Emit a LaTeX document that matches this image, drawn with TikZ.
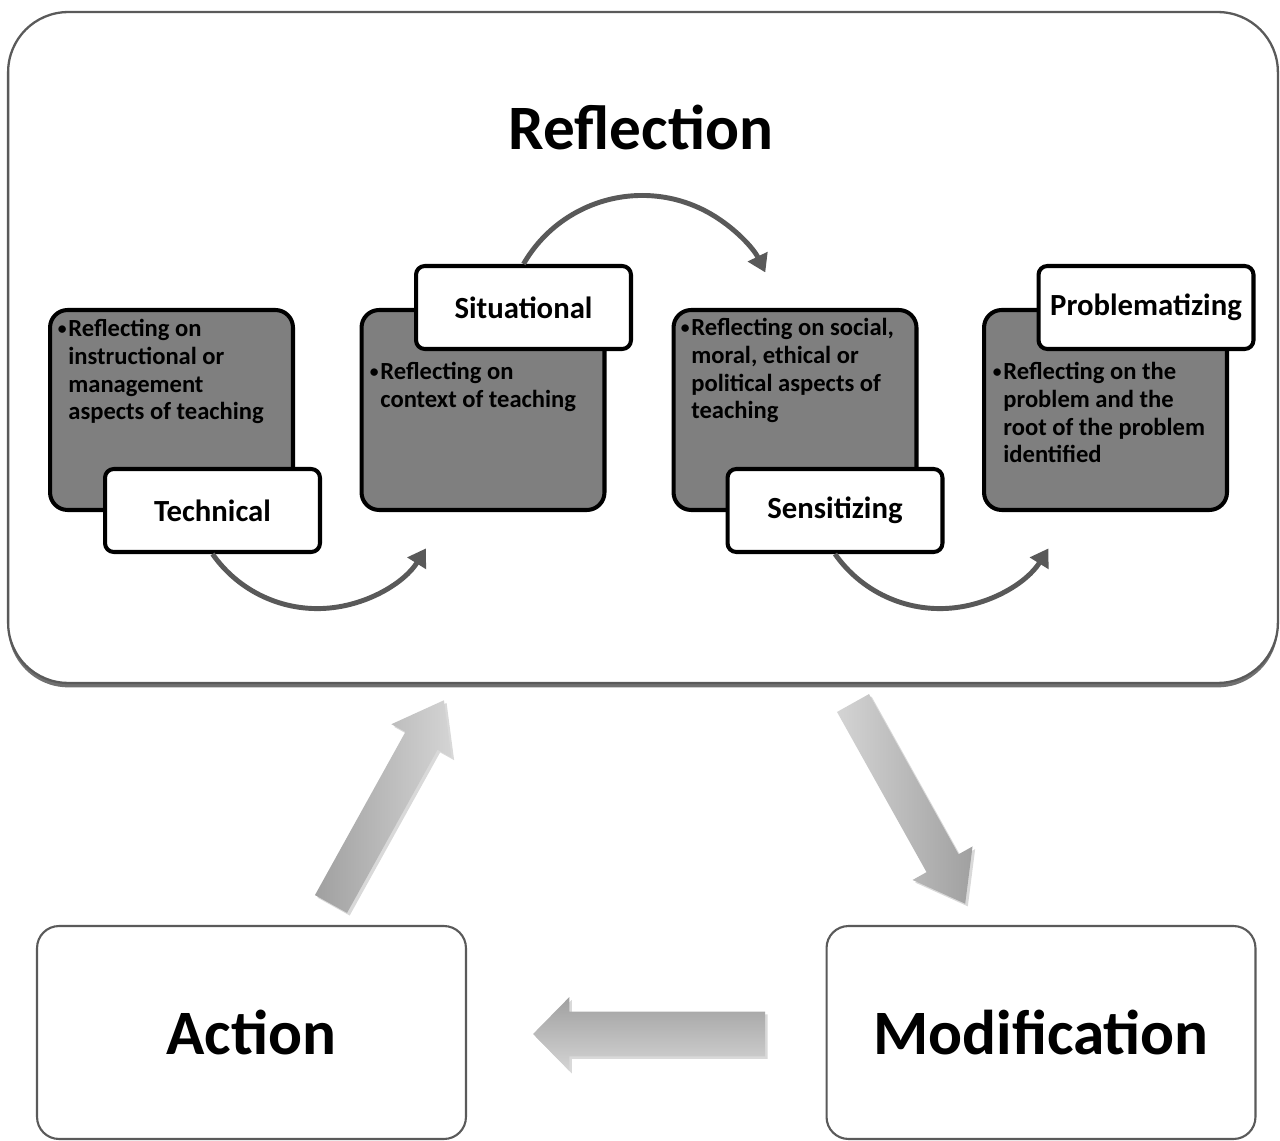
\documentclass[tikz,border=0pt]{standalone}
\usepackage{fontspec}
\setmainfont{Carlito}
\usetikzlibrary{arrows.meta}
\usetikzlibrary{shapes.arrows}
\usetikzlibrary{shadows}
\usetikzlibrary{positioning}

\definecolor{boxgray}{HTML}{7F7F7F}
\definecolor{arcgray}{HTML}{595959}
\definecolor{framegray}{HTML}{5A5A5A}
\definecolor{arrowlight}{HTML}{D4D4D4}
\definecolor{arrowdark}{HTML}{A0A0A0}

\newcommand{\smallbullet}{\llap{\raisebox{1.2pt}{\fontsize{10}{10}\selectfont\textbullet}\hspace{1pt}}}

\tikzset{
  outerbox/.style={draw=framegray, line width=1.3pt, fill=white, rounded corners=1.2cm,
    minimum width=25.4cm, minimum height=13.42cm,
    drop shadow={shadow xshift=0pt, shadow yshift=-2.5pt, opacity=0.7, fill=black!80}},
  graybox/.style={draw=black, line width=2.3pt, fill=boxgray, rounded corners=10pt,
    minimum width=4.86cm, minimum height=4cm},
  labelbox/.style={draw=black, line width=2.3pt, fill=white, rounded corners=5pt,
    minimum width=4.3cm, minimum height=1.66cm, font=\bfseries\fontsize{17.5}{20}\selectfont},
  bullettext/.style={anchor=north west, align=left, inner sep=0pt,
    font=\bfseries\fontsize{14}{15.8}\selectfont},
  bigbox/.style={draw=framegray, line width=1.2pt, fill=white, rounded corners=0.44cm,
    minimum width=8.58cm, minimum height=4.26cm, font=\bfseries\fontsize{36}{40}\selectfont},
  cyclearrow/.style={draw=arcgray, line width=2.8pt, -{Triangle[length=10pt,width=12pt]}},
  blockarrow/.style={single arrow, draw=none, anchor=tail, inner xsep=0pt, outer sep=0pt,
    single arrow head indent=0pt,
    drop shadow={shadow xshift=1.5pt, shadow yshift=-1.5pt, opacity=0.3}}
}

\begin{document}
\begin{tikzpicture}[x=0.02cm,y=-0.02cm]
  \useasboundingbox (0,0) rectangle (1280,1141);

  % Reflection frame
  \node[outerbox] (reflect) at (643,347.5) {};
  \node[font=\bfseries\fontsize{36}{40}\selectfont] (title) at (641,128) {Reflection};

  % four kinds of reflection
  \node[graybox] (techbox) at (171.5,410) {};
  \node[graybox] (sitbox) at (483,410) {};
  \node[graybox] (sensbox) at (795,410) {};
  \node[graybox] (probbox) at (1105.5,410) {};

  \node[bullettext] (techtxt) at (68,319)
    {\smallbullet Reflecting on\\instructional or\\management\\aspects of teaching};
  \node[bullettext] (sittxt) at (380,362)
    {\smallbullet Reflecting on\\context of teaching};
  \node[bullettext] (senstxt) at (691,318)
    {\smallbullet Reflecting on social,\\moral, ethical or\\political aspects of\\teaching};
  \node[bullettext] (probtxt) at (1003,362)
    {\smallbullet Reflecting on the\\problem and the\\root of the problem\\identified};

  \node[labelbox] (techlab) at (212.5,510.5) {Technical};
  \node[labelbox] (sitlab) at (523.5,307.5) {Situational};
  \node[labelbox] (senslab) at (835,510.5) {Sensitizing};
  \node[labelbox] (problab) at (1146,307.5) {Problematizing};

  % curved arrows between the kinds
  \draw[cyclearrow] (techlab.south) arc[start angle=145, end angle=32, radius=128];
  \draw[cyclearrow] (sitlab.north) arc[start angle=210, end angle=334, radius=137];
  \draw[cyclearrow] (senslab.south) arc[start angle=145, end angle=32, radius=128];

  % action and modification
  \node[bigbox] (action) at (251.5,1032.5) {Action};
  \node[bigbox] (modif) at (1041,1032.5) {Modification};

  % block arrows of the cycle
  \node[blockarrow, rotate=61, minimum height=4.66cm, inner ysep=0.36cm,
    single arrow head extend=0.32cm, single arrow tip angle=73,
    left color=arrowdark, right color=arrowlight] (uparrow) at (331,904) {};
  \node[blockarrow, rotate=-60.8, minimum height=4.6cm, inner ysep=0.36cm,
    single arrow head extend=0.32cm, single arrow tip angle=73,
    left color=arrowlight, right color=arrowdark] (downarrow) at (853,703) {};
  \node[blockarrow, rotate=180, minimum height=4.64cm, inner ysep=0.44cm,
    single arrow head extend=0.29cm, single arrow tip angle=91,
    top color=arrowdark, bottom color=arrowlight] (leftarrow) at (765,1034) {};
\end{tikzpicture}
\end{document}
